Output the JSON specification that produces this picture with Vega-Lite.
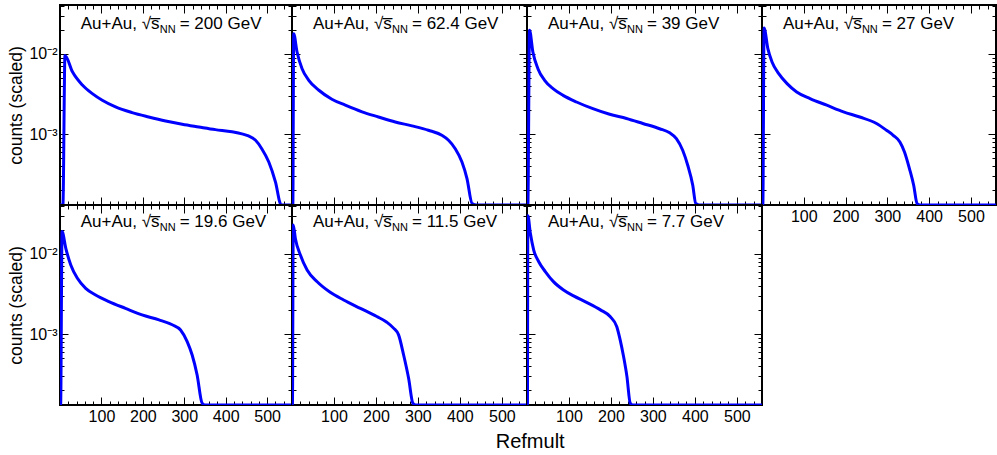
{
"$schema": "https://vega.github.io/schema/vega-lite/v6.json",
"padding": {"left": 6, "top": 3, "right": 0, "bottom": 0},
"background": "white",
"columns": 4,
"spacing": 0,
"bounds": "flush",
"title": {"text": "Refmult", "orient": "bottom", "anchor": "middle", "frame": "bounds", "dx": 28, "fontSize": 20, "fontWeight": "normal", "font": "Liberation Sans", "color": "black", "offset": 7},
"datasets": {
"curves": [
{"e":"200","x":0,"y":1e-6},{"e":"200","x":7,"y":1e-6},{"e":"200","x":12,"y":0.0096},{"e":"200","x":30,"y":0.0060},{"e":"200","x":54,"y":0.0041},{"e":"200","x":78,"y":0.0032},{"e":"200","x":102,"y":0.00265},{"e":"200","x":134,"y":0.00219},{"e":"200","x":174,"y":0.00186},{"e":"200","x":214,"y":0.00164},{"e":"200","x":255,"y":0.00146},{"e":"200","x":295,"y":0.00133},{"e":"200","x":335,"y":0.00123},{"e":"200","x":375,"y":0.00114},{"e":"200","x":415,"y":0.00107},{"e":"200","x":439,"y":0.00101},{"e":"200","x":455,"y":0.00095},{"e":"200","x":472,"y":0.00084},{"e":"200","x":487,"y":0.00066},{"e":"200","x":504,"y":0.00045},{"e":"200","x":520,"y":0.000255},{"e":"200","x":534,"y":0.000131},{"e":"200","x":545,"y":1e-6},{"e":"200","x":560,"y":1e-6},
{"e":"62.4","x":0,"y":1e-6},{"e":"62.4","x":2,"y":1e-6},{"e":"62.4","x":4,"y":0.0179},{"e":"62.4","x":12,"y":0.0106},{"e":"62.4","x":24,"y":0.00656},{"e":"62.4","x":40,"y":0.0047},{"e":"62.4","x":64,"y":0.00353},{"e":"62.4","x":95,"y":0.00273},{"e":"62.4","x":127,"y":0.0023},{"e":"62.4","x":167,"y":0.0019},{"e":"62.4","x":206,"y":0.00164},{"e":"62.4","x":246,"y":0.00142},{"e":"62.4","x":286,"y":0.00127},{"e":"62.4","x":325,"y":0.00112},{"e":"62.4","x":357,"y":0.00097},{"e":"62.4","x":373,"y":0.00084},{"e":"62.4","x":389,"y":0.00066},{"e":"62.4","x":405,"y":0.00045},{"e":"62.4","x":417,"y":0.00028},{"e":"62.4","x":429,"y":0.000137},{"e":"62.4","x":440,"y":1e-6},{"e":"62.4","x":560,"y":1e-6},
{"e":"39","x":0,"y":1e-6},{"e":"39","x":2,"y":1e-6},{"e":"39","x":6,"y":0.0197},{"e":"39","x":14,"y":0.0106},{"e":"39","x":26,"y":0.00656},{"e":"39","x":42,"y":0.0047},{"e":"39","x":62,"y":0.0037},{"e":"39","x":86,"y":0.00305},{"e":"39","x":118,"y":0.00252},{"e":"39","x":157,"y":0.00208},{"e":"39","x":197,"y":0.00177},{"e":"39","x":237,"y":0.00157},{"e":"39","x":276,"y":0.00136},{"e":"39","x":316,"y":0.00117},{"e":"39","x":340,"y":0.00104},{"e":"39","x":356,"y":0.00088},{"e":"39","x":371,"y":0.00063},{"e":"39","x":383,"y":0.00041},{"e":"39","x":395,"y":0.000231},{"e":"39","x":402,"y":0.000137},{"e":"39","x":410,"y":1e-6},{"e":"39","x":560,"y":1e-6},
{"e":"27","x":0,"y":1e-6},{"e":"27","x":2,"y":1e-6},{"e":"27","x":5,"y":0.0211},{"e":"27","x":14,"y":0.01164},{"e":"27","x":24,"y":0.00795},{"e":"27","x":40,"y":0.00569},{"e":"27","x":60,"y":0.00427},{"e":"27","x":83,"y":0.00336},{"e":"27","x":115,"y":0.00278},{"e":"27","x":155,"y":0.0023},{"e":"27","x":195,"y":0.0019},{"e":"27","x":234,"y":0.00164},{"e":"27","x":274,"y":0.00136},{"e":"27","x":298,"y":0.00112},{"e":"27","x":314,"y":0.00097},{"e":"27","x":330,"y":0.0008},{"e":"27","x":341,"y":0.0006},{"e":"27","x":353,"y":0.00037},{"e":"27","x":363,"y":0.000231},{"e":"27","x":371,"y":0.000137},{"e":"27","x":378,"y":1e-6},{"e":"27","x":560,"y":1e-6},
{"e":"19.6","x":0,"y":1e-6},{"e":"19.6","x":1.5,"y":1e-6},{"e":"19.6","x":5,"y":0.019},{"e":"19.6","x":14,"y":0.01175},{"e":"19.6","x":26,"y":0.0073},{"e":"19.6","x":42,"y":0.00497},{"e":"19.6","x":62,"y":0.00373},{"e":"19.6","x":86,"y":0.00308},{"e":"19.6","x":118,"y":0.00255},{"e":"19.6","x":158,"y":0.0021},{"e":"19.6","x":198,"y":0.00174},{"e":"19.6","x":239,"y":0.00151},{"e":"19.6","x":271,"y":0.00131},{"e":"19.6","x":291,"y":0.00113},{"e":"19.6","x":307,"y":0.00081},{"e":"19.6","x":319,"y":0.00055},{"e":"19.6","x":331,"y":0.00031},{"e":"19.6","x":343,"y":0.000138},{"e":"19.6","x":350,"y":1e-6},{"e":"19.6","x":560,"y":1e-6},
{"e":"11.5","x":0,"y":1e-6},{"e":"11.5","x":1,"y":1e-6},{"e":"11.5","x":3,"y":0.023},{"e":"11.5","x":8,"y":0.0156},{"e":"11.5","x":20,"y":0.0097},{"e":"11.5","x":36,"y":0.0063},{"e":"11.5","x":60,"y":0.0045},{"e":"11.5","x":91,"y":0.00333},{"e":"11.5","x":123,"y":0.00267},{"e":"11.5","x":163,"y":0.0021},{"e":"11.5","x":202,"y":0.00166},{"e":"11.5","x":226,"y":0.00141},{"e":"11.5","x":242,"y":0.00119},{"e":"11.5","x":254,"y":0.00098},{"e":"11.5","x":266,"y":0.00055},{"e":"11.5","x":278,"y":0.00028},{"e":"11.5","x":288,"y":0.000138},{"e":"11.5","x":295,"y":1e-6},{"e":"11.5","x":560,"y":1e-6},
{"e":"7.7","x":0,"y":1e-6},{"e":"7.7","x":1,"y":1e-6},{"e":"7.7","x":2,"y":0.030},{"e":"7.7","x":8,"y":0.0181},{"e":"7.7","x":16,"y":0.0112},{"e":"7.7","x":28,"y":0.0080},{"e":"7.7","x":44,"y":0.0060},{"e":"7.7","x":63,"y":0.00452},{"e":"7.7","x":87,"y":0.00356},{"e":"7.7","x":111,"y":0.0030},{"e":"7.7","x":143,"y":0.00248},{"e":"7.7","x":175,"y":0.00201},{"e":"7.7","x":198,"y":0.00166},{"e":"7.7","x":214,"y":0.00124},{"e":"7.7","x":222,"y":0.00085},{"e":"7.7","x":230,"y":0.00053},{"e":"7.7","x":238,"y":0.0003},{"e":"7.7","x":246,"y":0.000138},{"e":"7.7","x":252,"y":1e-6},{"e":"7.7","x":560,"y":1e-6}
],
"titles": [
{"e":"200","head":"Au+Au, √s̅","sub":"NN","tail":"= 200 GeV"},
{"e":"62.4","head":"Au+Au, √s̅","sub":"NN","tail":"= 62.4 GeV"},
{"e":"39","head":"Au+Au, √s̅","sub":"NN","tail":"= 39 GeV"},
{"e":"27","head":"Au+Au, √s̅","sub":"NN","tail":"= 27 GeV"},
{"e":"19.6","head":"Au+Au, √s̅","sub":"NN","tail":"= 19.6 GeV"},
{"e":"11.5","head":"Au+Au, √s̅","sub":"NN","tail":"= 11.5 GeV"},
{"e":"7.7","head":"Au+Au, √s̅","sub":"NN","tail":"= 7.7 GeV"}
]
},
"concat": [
{"width":232,"height":200,"data":{"name":"curves"},"transform":[{"filter":"datum.e == '200'"}],
 "layer":[
  {"mark":{"type":"line","opacity":0},"encoding":{"x":{"field":"x","type":"quantitative","scale":{"domain":[0,560],"nice":false,"zero":false},"axis":{"orient":"bottom","values":[20,40,60,80,120,140,160,180,220,240,260,280,320,340,360,380,420,440,460,480,520,540],"labels":false,"tickSize":-4,"title":null}},"y":{"field":"y","type":"quantitative","scale":{"type":"log","domain":[0.000131,0.0408],"nice":false,"clamp":true},"axis":{"orient":"left","values":[0.0002,0.0003,0.0004,0.0005,0.0006,0.0007,0.0008,0.0009,0.002,0.003,0.004,0.005,0.006,0.007,0.008,0.009,0.02,0.03,0.04],"labels":false,"tickSize":-4,"title":null}}}},
  {"mark":{"type":"line","opacity":0},"encoding":{"x":{"field":"x","type":"quantitative","axis":{"orient":"top","values":[100,200,300,400,500],"labels":false,"tickSize":-8,"title":null}},"y":{"field":"y","type":"quantitative","axis":{"orient":"right","values":[0.001,0.01],"labels":false,"tickSize":-8,"title":null}}}},
  {"mark":{"type":"line","opacity":0},"encoding":{"x":{"field":"x","type":"quantitative","axis":{"orient":"top","values":[20,40,60,80,120,140,160,180,220,240,260,280,320,340,360,380,420,440,460,480,520,540],"labels":false,"tickSize":-4,"title":null}},"y":{"field":"y","type":"quantitative","axis":{"orient":"right","values":[0.0002,0.0003,0.0004,0.0005,0.0006,0.0007,0.0008,0.0009,0.002,0.003,0.004,0.005,0.006,0.007,0.008,0.009,0.02,0.03,0.04],"labels":false,"tickSize":-4,"title":null}}}},
  {"mark":{"type":"line","color":"#0000ff","strokeWidth":3,"interpolate":"monotone","clip":true},"encoding":{"x":{"field":"x","type":"quantitative","axis":{"orient":"bottom","values":[100,200,300,400,500],"labels":false,"tickSize":-8,"title":null}},"y":{"field":"y","type":"quantitative","axis":{"orient":"left","values":[0.001,0.01],"labels":true,"labelExpr":"datum.value > 0.005 ? '10⁻²' : '10⁻³'","tickSize":-8,"title":"counts (scaled)"}}}},
  {"data":{"name":"titles"},"transform":[{"filter":"datum.e == '200'"}],"mark":{"type":"text"},"encoding":{"x":{"datum":50,"type":"quantitative","axis":null},"y":{"datum":0.0205,"type":"quantitative","axis":null},"text":{"field":"head"}}},
  {"data":{"name":"titles"},"transform":[{"filter":"datum.e == '200'"}],"mark":{"type":"text","dx":79,"dy":4.5,"fontSize":11},"encoding":{"x":{"datum":50,"type":"quantitative","axis":null},"y":{"datum":0.0205,"type":"quantitative","axis":null},"text":{"field":"sub"}}},
  {"data":{"name":"titles"},"transform":[{"filter":"datum.e == '200'"}],"mark":{"type":"text","dx":99},"encoding":{"x":{"datum":50,"type":"quantitative","axis":null},"y":{"datum":0.0205,"type":"quantitative","axis":null},"text":{"field":"tail"}}}
 ],
 "resolve":{"axis":{"x":"independent","y":"independent"}}},
{"width":235,"height":200,"data":{"name":"curves"},"transform":[{"filter":"datum.e == '62.4'"}],
 "layer":[
  {"mark":{"type":"line","opacity":0},"encoding":{"x":{"field":"x","type":"quantitative","scale":{"domain":[0,560],"nice":false,"zero":false},"axis":{"orient":"bottom","values":[20,40,60,80,120,140,160,180,220,240,260,280,320,340,360,380,420,440,460,480,520,540],"labels":false,"tickSize":-4,"title":null}},"y":{"field":"y","type":"quantitative","scale":{"type":"log","domain":[0.000131,0.0408],"nice":false,"clamp":true},"axis":{"orient":"left","values":[0.0002,0.0003,0.0004,0.0005,0.0006,0.0007,0.0008,0.0009,0.002,0.003,0.004,0.005,0.006,0.007,0.008,0.009,0.02,0.03,0.04],"labels":false,"tickSize":-4,"title":null}}}},
  {"mark":{"type":"line","opacity":0},"encoding":{"x":{"field":"x","type":"quantitative","axis":{"orient":"top","values":[100,200,300,400,500],"labels":false,"tickSize":-8,"title":null}},"y":{"field":"y","type":"quantitative","axis":{"orient":"right","values":[0.001,0.01],"labels":false,"tickSize":-8,"title":null}}}},
  {"mark":{"type":"line","opacity":0},"encoding":{"x":{"field":"x","type":"quantitative","axis":{"orient":"top","values":[20,40,60,80,120,140,160,180,220,240,260,280,320,340,360,380,420,440,460,480,520,540],"labels":false,"tickSize":-4,"title":null}},"y":{"field":"y","type":"quantitative","axis":{"orient":"right","values":[0.0002,0.0003,0.0004,0.0005,0.0006,0.0007,0.0008,0.0009,0.002,0.003,0.004,0.005,0.006,0.007,0.008,0.009,0.02,0.03,0.04],"labels":false,"tickSize":-4,"title":null}}}},
  {"mark":{"type":"line","color":"#0000ff","strokeWidth":3,"interpolate":"monotone","clip":true},"encoding":{"x":{"field":"x","type":"quantitative","axis":{"orient":"bottom","values":[100,200,300,400,500],"labels":false,"tickSize":-8,"title":null}},"y":{"field":"y","type":"quantitative","axis":{"orient":"left","values":[0.001,0.01],"labels":false,"tickSize":-8,"title":null}}}},
  {"data":{"name":"titles"},"transform":[{"filter":"datum.e == '62.4'"}],"mark":{"type":"text"},"encoding":{"x":{"datum":50,"type":"quantitative","axis":null},"y":{"datum":0.0205,"type":"quantitative","axis":null},"text":{"field":"head"}}},
  {"data":{"name":"titles"},"transform":[{"filter":"datum.e == '62.4'"}],"mark":{"type":"text","dx":79,"dy":4.5,"fontSize":11},"encoding":{"x":{"datum":50,"type":"quantitative","axis":null},"y":{"datum":0.0205,"type":"quantitative","axis":null},"text":{"field":"sub"}}},
  {"data":{"name":"titles"},"transform":[{"filter":"datum.e == '62.4'"}],"mark":{"type":"text","dx":99},"encoding":{"x":{"datum":50,"type":"quantitative","axis":null},"y":{"datum":0.0205,"type":"quantitative","axis":null},"text":{"field":"tail"}}}
 ],
 "resolve":{"axis":{"x":"independent","y":"independent"}}},
{"width":235,"height":200,"data":{"name":"curves"},"transform":[{"filter":"datum.e == '39'"}],
 "layer":[
  {"mark":{"type":"line","opacity":0},"encoding":{"x":{"field":"x","type":"quantitative","scale":{"domain":[0,560],"nice":false,"zero":false},"axis":{"orient":"bottom","values":[20,40,60,80,120,140,160,180,220,240,260,280,320,340,360,380,420,440,460,480,520,540],"labels":false,"tickSize":-4,"title":null}},"y":{"field":"y","type":"quantitative","scale":{"type":"log","domain":[0.000131,0.0408],"nice":false,"clamp":true},"axis":{"orient":"left","values":[0.0002,0.0003,0.0004,0.0005,0.0006,0.0007,0.0008,0.0009,0.002,0.003,0.004,0.005,0.006,0.007,0.008,0.009,0.02,0.03,0.04],"labels":false,"tickSize":-4,"title":null}}}},
  {"mark":{"type":"line","opacity":0},"encoding":{"x":{"field":"x","type":"quantitative","axis":{"orient":"top","values":[100,200,300,400,500],"labels":false,"tickSize":-8,"title":null}},"y":{"field":"y","type":"quantitative","axis":{"orient":"right","values":[0.001,0.01],"labels":false,"tickSize":-8,"title":null}}}},
  {"mark":{"type":"line","opacity":0},"encoding":{"x":{"field":"x","type":"quantitative","axis":{"orient":"top","values":[20,40,60,80,120,140,160,180,220,240,260,280,320,340,360,380,420,440,460,480,520,540],"labels":false,"tickSize":-4,"title":null}},"y":{"field":"y","type":"quantitative","axis":{"orient":"right","values":[0.0002,0.0003,0.0004,0.0005,0.0006,0.0007,0.0008,0.0009,0.002,0.003,0.004,0.005,0.006,0.007,0.008,0.009,0.02,0.03,0.04],"labels":false,"tickSize":-4,"title":null}}}},
  {"mark":{"type":"line","color":"#0000ff","strokeWidth":3,"interpolate":"monotone","clip":true},"encoding":{"x":{"field":"x","type":"quantitative","axis":{"orient":"bottom","values":[100,200,300,400,500],"labels":false,"tickSize":-8,"title":null}},"y":{"field":"y","type":"quantitative","axis":{"orient":"left","values":[0.001,0.01],"labels":false,"tickSize":-8,"title":null}}}},
  {"data":{"name":"titles"},"transform":[{"filter":"datum.e == '39'"}],"mark":{"type":"text"},"encoding":{"x":{"datum":50,"type":"quantitative","axis":null},"y":{"datum":0.0205,"type":"quantitative","axis":null},"text":{"field":"head"}}},
  {"data":{"name":"titles"},"transform":[{"filter":"datum.e == '39'"}],"mark":{"type":"text","dx":79,"dy":4.5,"fontSize":11},"encoding":{"x":{"datum":50,"type":"quantitative","axis":null},"y":{"datum":0.0205,"type":"quantitative","axis":null},"text":{"field":"sub"}}},
  {"data":{"name":"titles"},"transform":[{"filter":"datum.e == '39'"}],"mark":{"type":"text","dx":99},"encoding":{"x":{"datum":50,"type":"quantitative","axis":null},"y":{"datum":0.0205,"type":"quantitative","axis":null},"text":{"field":"tail"}}}
 ],
 "resolve":{"axis":{"x":"independent","y":"independent"}}},
{"width":234,"height":200,"data":{"name":"curves"},"transform":[{"filter":"datum.e == '27'"}],
 "layer":[
  {"mark":{"type":"line","opacity":0},"encoding":{"x":{"field":"x","type":"quantitative","scale":{"domain":[0,560],"nice":false,"zero":false},"axis":{"orient":"bottom","values":[20,40,60,80,120,140,160,180,220,240,260,280,320,340,360,380,420,440,460,480,520,540],"labels":false,"tickSize":-4,"title":null}},"y":{"field":"y","type":"quantitative","scale":{"type":"log","domain":[0.000131,0.0408],"nice":false,"clamp":true},"axis":{"orient":"left","values":[0.0002,0.0003,0.0004,0.0005,0.0006,0.0007,0.0008,0.0009,0.002,0.003,0.004,0.005,0.006,0.007,0.008,0.009,0.02,0.03,0.04],"labels":false,"tickSize":-4,"title":null}}}},
  {"mark":{"type":"line","opacity":0},"encoding":{"x":{"field":"x","type":"quantitative","axis":{"orient":"top","values":[100,200,300,400,500],"labels":false,"tickSize":-8,"title":null}},"y":{"field":"y","type":"quantitative","axis":{"orient":"right","values":[0.001,0.01],"labels":false,"tickSize":-8,"title":null}}}},
  {"mark":{"type":"line","opacity":0},"encoding":{"x":{"field":"x","type":"quantitative","axis":{"orient":"top","values":[20,40,60,80,120,140,160,180,220,240,260,280,320,340,360,380,420,440,460,480,520,540],"labels":false,"tickSize":-4,"title":null}},"y":{"field":"y","type":"quantitative","axis":{"orient":"right","values":[0.0002,0.0003,0.0004,0.0005,0.0006,0.0007,0.0008,0.0009,0.002,0.003,0.004,0.005,0.006,0.007,0.008,0.009,0.02,0.03,0.04],"labels":false,"tickSize":-4,"title":null}}}},
  {"mark":{"type":"line","color":"#0000ff","strokeWidth":3,"interpolate":"monotone","clip":true},"encoding":{"x":{"field":"x","type":"quantitative","axis":{"orient":"bottom","values":[100,200,300,400,500],"labels":true,"tickSize":-8,"title":null}},"y":{"field":"y","type":"quantitative","axis":{"orient":"left","values":[0.001,0.01],"labels":false,"tickSize":-8,"title":null}}}},
  {"data":{"name":"titles"},"transform":[{"filter":"datum.e == '27'"}],"mark":{"type":"text"},"encoding":{"x":{"datum":50,"type":"quantitative","axis":null},"y":{"datum":0.0205,"type":"quantitative","axis":null},"text":{"field":"head"}}},
  {"data":{"name":"titles"},"transform":[{"filter":"datum.e == '27'"}],"mark":{"type":"text","dx":79,"dy":4.5,"fontSize":11},"encoding":{"x":{"datum":50,"type":"quantitative","axis":null},"y":{"datum":0.0205,"type":"quantitative","axis":null},"text":{"field":"sub"}}},
  {"data":{"name":"titles"},"transform":[{"filter":"datum.e == '27'"}],"mark":{"type":"text","dx":99},"encoding":{"x":{"datum":50,"type":"quantitative","axis":null},"y":{"datum":0.0205,"type":"quantitative","axis":null},"text":{"field":"tail"}}}
 ],
 "resolve":{"axis":{"x":"independent","y":"independent"}}},
{"width":232,"height":200,"data":{"name":"curves"},"transform":[{"filter":"datum.e == '19.6'"}],
 "layer":[
  {"mark":{"type":"line","opacity":0},"encoding":{"x":{"field":"x","type":"quantitative","scale":{"domain":[0,560],"nice":false,"zero":false},"axis":{"orient":"bottom","values":[20,40,60,80,120,140,160,180,220,240,260,280,320,340,360,380,420,440,460,480,520,540],"labels":false,"tickSize":-4,"title":null}},"y":{"field":"y","type":"quantitative","scale":{"type":"log","domain":[0.000131,0.0408],"nice":false,"clamp":true},"axis":{"orient":"left","values":[0.0002,0.0003,0.0004,0.0005,0.0006,0.0007,0.0008,0.0009,0.002,0.003,0.004,0.005,0.006,0.007,0.008,0.009,0.02,0.03,0.04],"labels":false,"tickSize":-4,"title":null}}}},
  {"mark":{"type":"line","opacity":0},"encoding":{"x":{"field":"x","type":"quantitative","axis":{"orient":"top","values":[100,200,300,400,500],"labels":false,"tickSize":-8,"title":null}},"y":{"field":"y","type":"quantitative","axis":{"orient":"right","values":[0.001,0.01],"labels":false,"tickSize":-8,"title":null}}}},
  {"mark":{"type":"line","opacity":0},"encoding":{"x":{"field":"x","type":"quantitative","axis":{"orient":"top","values":[20,40,60,80,120,140,160,180,220,240,260,280,320,340,360,380,420,440,460,480,520,540],"labels":false,"tickSize":-4,"title":null}},"y":{"field":"y","type":"quantitative","axis":{"orient":"right","values":[0.0002,0.0003,0.0004,0.0005,0.0006,0.0007,0.0008,0.0009,0.002,0.003,0.004,0.005,0.006,0.007,0.008,0.009,0.02,0.03,0.04],"labels":false,"tickSize":-4,"title":null}}}},
  {"mark":{"type":"line","color":"#0000ff","strokeWidth":3,"interpolate":"monotone","clip":true},"encoding":{"x":{"field":"x","type":"quantitative","axis":{"orient":"bottom","values":[100,200,300,400,500],"labels":true,"tickSize":-8,"title":null}},"y":{"field":"y","type":"quantitative","axis":{"orient":"left","values":[0.001,0.01],"labels":true,"labelExpr":"datum.value > 0.005 ? '10⁻²' : '10⁻³'","tickSize":-8,"title":"counts (scaled)"}}}},
  {"data":{"name":"titles"},"transform":[{"filter":"datum.e == '19.6'"}],"mark":{"type":"text"},"encoding":{"x":{"datum":50,"type":"quantitative","axis":null},"y":{"datum":0.0217,"type":"quantitative","axis":null},"text":{"field":"head"}}},
  {"data":{"name":"titles"},"transform":[{"filter":"datum.e == '19.6'"}],"mark":{"type":"text","dx":79,"dy":4.5,"fontSize":11},"encoding":{"x":{"datum":50,"type":"quantitative","axis":null},"y":{"datum":0.0217,"type":"quantitative","axis":null},"text":{"field":"sub"}}},
  {"data":{"name":"titles"},"transform":[{"filter":"datum.e == '19.6'"}],"mark":{"type":"text","dx":99},"encoding":{"x":{"datum":50,"type":"quantitative","axis":null},"y":{"datum":0.0217,"type":"quantitative","axis":null},"text":{"field":"tail"}}}
 ],
 "resolve":{"axis":{"x":"independent","y":"independent"}}},
{"width":235,"height":200,"data":{"name":"curves"},"transform":[{"filter":"datum.e == '11.5'"}],
 "layer":[
  {"mark":{"type":"line","opacity":0},"encoding":{"x":{"field":"x","type":"quantitative","scale":{"domain":[0,560],"nice":false,"zero":false},"axis":{"orient":"bottom","values":[20,40,60,80,120,140,160,180,220,240,260,280,320,340,360,380,420,440,460,480,520,540],"labels":false,"tickSize":-4,"title":null}},"y":{"field":"y","type":"quantitative","scale":{"type":"log","domain":[0.000131,0.0408],"nice":false,"clamp":true},"axis":{"orient":"left","values":[0.0002,0.0003,0.0004,0.0005,0.0006,0.0007,0.0008,0.0009,0.002,0.003,0.004,0.005,0.006,0.007,0.008,0.009,0.02,0.03,0.04],"labels":false,"tickSize":-4,"title":null}}}},
  {"mark":{"type":"line","opacity":0},"encoding":{"x":{"field":"x","type":"quantitative","axis":{"orient":"top","values":[100,200,300,400,500],"labels":false,"tickSize":-8,"title":null}},"y":{"field":"y","type":"quantitative","axis":{"orient":"right","values":[0.001,0.01],"labels":false,"tickSize":-8,"title":null}}}},
  {"mark":{"type":"line","opacity":0},"encoding":{"x":{"field":"x","type":"quantitative","axis":{"orient":"top","values":[20,40,60,80,120,140,160,180,220,240,260,280,320,340,360,380,420,440,460,480,520,540],"labels":false,"tickSize":-4,"title":null}},"y":{"field":"y","type":"quantitative","axis":{"orient":"right","values":[0.0002,0.0003,0.0004,0.0005,0.0006,0.0007,0.0008,0.0009,0.002,0.003,0.004,0.005,0.006,0.007,0.008,0.009,0.02,0.03,0.04],"labels":false,"tickSize":-4,"title":null}}}},
  {"mark":{"type":"line","color":"#0000ff","strokeWidth":3,"interpolate":"monotone","clip":true},"encoding":{"x":{"field":"x","type":"quantitative","axis":{"orient":"bottom","values":[100,200,300,400,500],"labels":true,"tickSize":-8,"title":null}},"y":{"field":"y","type":"quantitative","axis":{"orient":"left","values":[0.001,0.01],"labels":false,"tickSize":-8,"title":null}}}},
  {"data":{"name":"titles"},"transform":[{"filter":"datum.e == '11.5'"}],"mark":{"type":"text"},"encoding":{"x":{"datum":50,"type":"quantitative","axis":null},"y":{"datum":0.0217,"type":"quantitative","axis":null},"text":{"field":"head"}}},
  {"data":{"name":"titles"},"transform":[{"filter":"datum.e == '11.5'"}],"mark":{"type":"text","dx":79,"dy":4.5,"fontSize":11},"encoding":{"x":{"datum":50,"type":"quantitative","axis":null},"y":{"datum":0.0217,"type":"quantitative","axis":null},"text":{"field":"sub"}}},
  {"data":{"name":"titles"},"transform":[{"filter":"datum.e == '11.5'"}],"mark":{"type":"text","dx":99},"encoding":{"x":{"datum":50,"type":"quantitative","axis":null},"y":{"datum":0.0217,"type":"quantitative","axis":null},"text":{"field":"tail"}}}
 ],
 "resolve":{"axis":{"x":"independent","y":"independent"}}},
{"width":235,"height":200,"data":{"name":"curves"},"transform":[{"filter":"datum.e == '7.7'"}],
 "layer":[
  {"mark":{"type":"line","opacity":0},"encoding":{"x":{"field":"x","type":"quantitative","scale":{"domain":[0,560],"nice":false,"zero":false},"axis":{"orient":"bottom","values":[20,40,60,80,120,140,160,180,220,240,260,280,320,340,360,380,420,440,460,480,520,540],"labels":false,"tickSize":-4,"title":null}},"y":{"field":"y","type":"quantitative","scale":{"type":"log","domain":[0.000131,0.0408],"nice":false,"clamp":true},"axis":{"orient":"left","values":[0.0002,0.0003,0.0004,0.0005,0.0006,0.0007,0.0008,0.0009,0.002,0.003,0.004,0.005,0.006,0.007,0.008,0.009,0.02,0.03,0.04],"labels":false,"tickSize":-4,"title":null}}}},
  {"mark":{"type":"line","opacity":0},"encoding":{"x":{"field":"x","type":"quantitative","axis":{"orient":"top","values":[100,200,300,400,500],"labels":false,"tickSize":-8,"title":null}},"y":{"field":"y","type":"quantitative","axis":{"orient":"right","values":[0.001,0.01],"labels":false,"tickSize":-8,"title":null}}}},
  {"mark":{"type":"line","opacity":0},"encoding":{"x":{"field":"x","type":"quantitative","axis":{"orient":"top","values":[20,40,60,80,120,140,160,180,220,240,260,280,320,340,360,380,420,440,460,480,520,540],"labels":false,"tickSize":-4,"title":null}},"y":{"field":"y","type":"quantitative","axis":{"orient":"right","values":[0.0002,0.0003,0.0004,0.0005,0.0006,0.0007,0.0008,0.0009,0.002,0.003,0.004,0.005,0.006,0.007,0.008,0.009,0.02,0.03,0.04],"labels":false,"tickSize":-4,"title":null}}}},
  {"mark":{"type":"line","color":"#0000ff","strokeWidth":3,"interpolate":"monotone","clip":true},"encoding":{"x":{"field":"x","type":"quantitative","axis":{"orient":"bottom","values":[100,200,300,400,500],"labels":true,"tickSize":-8,"title":null}},"y":{"field":"y","type":"quantitative","axis":{"orient":"left","values":[0.001,0.01],"labels":false,"tickSize":-8,"title":null}}}},
  {"data":{"name":"titles"},"transform":[{"filter":"datum.e == '7.7'"}],"mark":{"type":"text"},"encoding":{"x":{"datum":50,"type":"quantitative","axis":null},"y":{"datum":0.0217,"type":"quantitative","axis":null},"text":{"field":"head"}}},
  {"data":{"name":"titles"},"transform":[{"filter":"datum.e == '7.7'"}],"mark":{"type":"text","dx":79,"dy":4.5,"fontSize":11},"encoding":{"x":{"datum":50,"type":"quantitative","axis":null},"y":{"datum":0.0217,"type":"quantitative","axis":null},"text":{"field":"sub"}}},
  {"data":{"name":"titles"},"transform":[{"filter":"datum.e == '7.7'"}],"mark":{"type":"text","dx":99},"encoding":{"x":{"datum":50,"type":"quantitative","axis":null},"y":{"datum":0.0217,"type":"quantitative","axis":null},"text":{"field":"tail"}}}
 ],
 "resolve":{"axis":{"x":"independent","y":"independent"}}}
],
"config": {
 "view": {"stroke": "black", "strokeWidth": 2},
 "font": "Liberation Sans",
 "axis": {"grid": false, "domain": false, "ticks": true, "tickColor": "black", "tickWidth": 1, "labelFont": "Liberation Sans", "labelFontSize": 16, "labelColor": "black", "labelPadding": 11, "labelFlush": false, "labelOverlap": false, "titleFont": "Liberation Sans", "titleFontSize": 17.5, "titleFontWeight": "normal", "titleColor": "black", "titlePadding": 3},
 "text": {"font": "Liberation Sans", "fontSize": 17, "color": "black", "align": "left", "baseline": "alphabetic"}
}
}
